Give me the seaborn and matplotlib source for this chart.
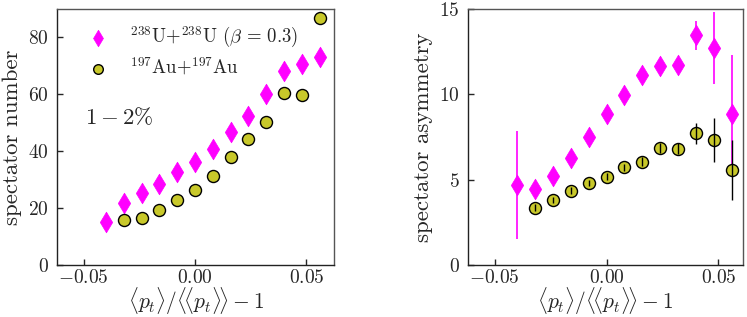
import numpy as np
import pandas as pd
import seaborn as sns
import matplotlib.pyplot as plt

# bin centres of <pt>/<<pt>> - 1
x_u = [-0.040, -0.032, -0.024, -0.016, -0.008, 0.000, 0.008, 0.016,
       0.024, 0.032, 0.040, 0.048, 0.056]
x_au = [-0.032, -0.024, -0.016, -0.008, 0.000, 0.008, 0.016, 0.024,
        0.032, 0.040, 0.048, 0.056]

# spectator number
num_u = [15.2, 21.7, 25.2, 28.6, 32.6, 36.2, 40.6, 46.9, 52.4, 60.0, 68.1, 70.5, 73.0]
num_au = [15.7, 16.5, 19.2, 22.7, 26.5, 31.4, 38.0, 44.3, 50.1, 60.3, 59.6, 86.7]

# spectator asymmetry with errors
asym_u = [4.69, 4.43, 5.23, 6.29, 7.52, 8.85, 9.94, 11.11, 11.64, 11.74, 13.46, 12.71, 8.85]
asym_u_err = [3.17, 0.25, 0.25, 0.25, 0.25, 0.25, 0.25, 0.3, 0.3, 0.3, 0.85, 2.1, 3.45]
asym_au = [3.36, 3.81, 4.34, 4.80, 5.16, 5.72, 6.05, 6.84, 6.82, 7.71, 7.32, 5.57]
asym_au_err = [0.2, 0.2, 0.2, 0.2, 0.2, 0.2, 0.25, 0.3, 0.3, 0.6, 1.3, 1.75]

label_u = r'$^{238}$U+$^{238}$U ($\beta\,=\,0.3$)'
label_au = r'$^{197}$Au+$^{197}$Au'

u = pd.DataFrame({'x': x_u, 'num': num_u, 'asym': asym_u, 'err': asym_u_err})
au = pd.DataFrame({'x': x_au, 'num': num_au, 'asym': asym_au, 'err': asym_au_err})

sns.set_theme(style='ticks')
plt.rcParams['font.family'] = 'serif'
plt.rcParams['font.serif'] = ['cmr10']
plt.rcParams['mathtext.fontset'] = 'cm'
plt.rcParams['axes.formatter.use_mathtext'] = True
plt.rcParams['axes.unicode_minus'] = True

magenta = '#ff00ff'
olive = '#c8c82a'

fig = plt.figure(figsize=(7.47, 3.17), dpi=100)
ax1 = fig.add_axes([0.0763, 0.164, 0.371, 0.808])
ax2 = fig.add_axes([0.6265, 0.164, 0.368, 0.808])

# left panel: spectator number
sns.scatterplot(data=u, x='x', y='num', ax=ax1, marker='d', s=110, color=magenta,
                edgecolor=magenta, linewidth=0.5, label=label_u, zorder=3)
sns.scatterplot(data=au, x='x', y='num', ax=ax1, marker='o', s=75, color=olive,
                edgecolor='black', linewidth=1.0, label=label_au, zorder=3)
ax1.set_ylim(0, 90)
ax1.set_yticks([0, 20, 40, 60, 80])
ax1.set_ylabel('spectator number', fontsize=16.5, labelpad=4)
ax1.legend(loc='upper left', frameon=False, fontsize=13.5, handletextpad=0.7,
           markerscale=0.8, borderaxespad=0.2, labelspacing=0.3,
           bbox_to_anchor=(0.04, 0.98))
ax1.text(0.1, 0.575, r'$1-2\%$', transform=ax1.transAxes, fontsize=16.5, va='center')

# right panel: spectator asymmetry
ax2.errorbar(u['x'], u['asym'], yerr=u['err'], fmt='none', ecolor=magenta, elinewidth=1.2, zorder=2)
sns.scatterplot(data=u, x='x', y='asym', ax=ax2, marker='d', s=110, color=magenta,
                edgecolor=magenta, linewidth=0.5, zorder=3)
sns.scatterplot(data=au, x='x', y='asym', ax=ax2, marker='o', s=75, color=olive,
                edgecolor='black', linewidth=1.0, zorder=3)
ax2.errorbar(au['x'], au['asym'], yerr=au['err'], fmt='none', ecolor='black', elinewidth=1.0, zorder=4)
ax2.set_ylim(0, 15)
ax2.set_yticks([0, 5, 10, 15])
ax2.set_ylabel('spectator asymmetry', fontsize=16.5, labelpad=4)

ax1.set_xlim(-0.062, 0.0625)
ax2.set_xlim(-0.062, 0.061)
for ax in (ax1, ax2):
    ax.set_xticks([-0.05, 0.0, 0.05])
    ax.set_xticklabels([r'$-0.05$', r'$0.00$', r'$0.05$'])
    ax.set_xlabel(r'$\langle p_t\rangle/\langle\!\langle p_t\rangle\!\rangle-1$', fontsize=15.5, labelpad=-1)
    ax.tick_params(axis='x', pad=3)
    ax.tick_params(axis='y', pad=6)
    ax.tick_params(direction='in', labelsize=14, length=4, width=1)
    for side in ('left', 'bottom'):
        ax.spines[side].set_color('#222222')
        ax.spines[side].set_linewidth(1.0)
    for side in ('top', 'right'):
        ax.spines[side].set_color('#555555')
        ax.spines[side].set_linewidth(1.0)

plt.savefig('out.png', dpi=100)
